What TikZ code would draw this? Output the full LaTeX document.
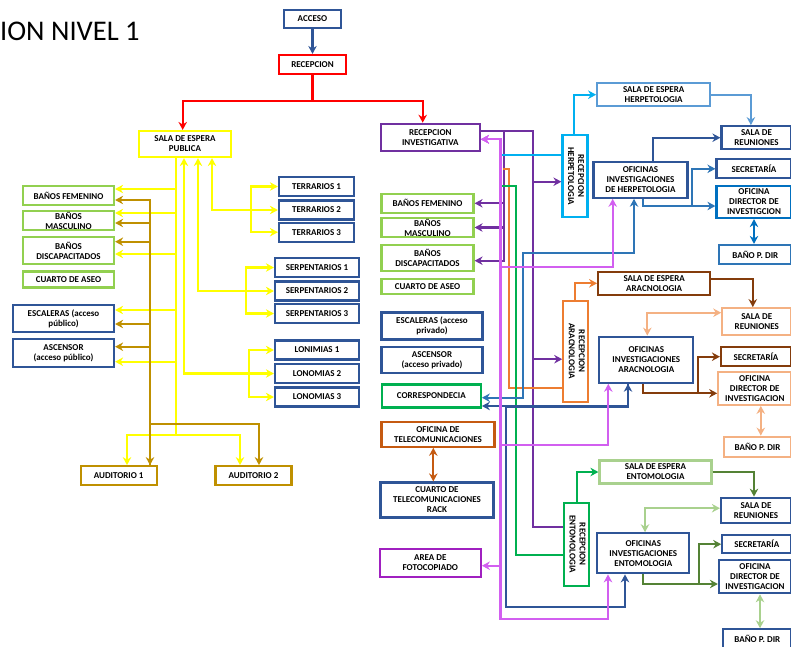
\documentclass[tikz,border=0pt]{standalone}
\usepackage{fontspec}
\setmainfont{Carlito}
\usepackage{graphicx}
\usetikzlibrary{arrows.meta}
\definecolor{cblue}{RGB}{47,85,151}
\definecolor{cyel}{RGB}{255,255,0}
\definecolor{clgreen}{RGB}{146,208,80}
\definecolor{cgold}{RGB}{191,144,0}
\definecolor{cpurple}{RGB}{112,48,160}
\definecolor{cmag}{RGB}{210,95,240}
\definecolor{ccyan}{RGB}{0,176,240}
\definecolor{corange}{RGB}{237,125,49}
\definecolor{cgreen}{RGB}{0,176,80}
\definecolor{cmblue}{RGB}{46,117,182}
\definecolor{clblue}{RGB}{91,155,213}
\definecolor{cdblue}{RGB}{0,112,192}
\definecolor{cbrown}{RGB}{132,60,12}
\definecolor{clorange}{RGB}{244,177,131}
\definecolor{clgreenb}{RGB}{169,209,142}
\definecolor{cdgreen}{RGB}{84,130,53}
\definecolor{cviolet}{RGB}{160,32,192}
\definecolor{cotel}{RGB}{197,90,17}
\newcommand{\vtext}[2]{\rotatebox{-90}{\begin{tabular}{@{}c@{}}#1\\#2\end{tabular}}}

\begin{document}
\begin{tikzpicture}[x=1pt,y=-1pt,>={Stealth[length=8pt,width=8.5pt]},
  bx/.style={draw=#1,line width=2.2pt,fill=white,align=center,inner xsep=2pt,inner ysep=0.5pt,font=\fontsize{9}{10}\selectfont\bfseries},
  sz/.style 2 args={minimum width=#1pt,minimum height=#2pt},
  ln/.style={draw=#1,line width=2.2pt}]
\useasboundingbox (0,0) rectangle (791,646);
\node[font=\fontsize{28.5}{33}\selectfont,anchor=base west,inner sep=0pt] (titulo) at (0,40) {ION NIVEL 1};
\node[bx=cblue,sz={57}{18}] (acceso) at (312.5,19) {ACCESO};
\node[bx=red,sz={67}{19}] (recep) at (312.5,64.5) {RECEPCION};
\node[bx=cyel,sz={92}{26}] (salap) at (185,144) {SALA DE ESPERA\\PUBLICA};
\node[bx=clgreen,sz={91}{19}] (bf1) at (68.5,195.5) {BAÑOS FEMENINO};
\node[bx=clgreen,sz={91}{19}] (bm1) at (68.5,220.5) {BAÑOS\\MASCULINO};
\node[bx=clgreen,sz={91}{27}] (bd1) at (68.5,250.5) {BAÑOS\\DISCAPACITADOS};
\node[bx=clgreen,sz={91}{16}] (ca1) at (68.5,279.5) {CUARTO DE ASEO};
\node[bx=cblue,sz={101}{27}] (es1) at (63.5,318.5) {ESCALERAS (acceso\\público)};
\node[bx=cblue,sz={101}{28}] (as1) at (63.5,353) {ASCENSOR\\(acceso público)};
\node[bx=cblue,sz={75}{19}] (ter1) at (316.5,186.5) {TERRARIOS 1};
\node[bx=cblue,sz={75}{19}] (ter2) at (316.5,210) {TERRARIOS 2};
\node[bx=cblue,sz={75}{19}] (ter3) at (316.5,232.2) {TERRARIOS 3};
\node[bx=cblue,sz={84}{19}] (ser1) at (317,267.5) {SERPENTARIOS 1};
\node[bx=cblue,sz={84}{19}] (ser2) at (317,291) {SERPENTARIOS 2};
\node[bx=cblue,sz={84}{19}] (ser3) at (317,313.5) {SERPENTARIOS 3};
\node[bx=cblue,sz={84}{19}] (lon1) at (317,350) {LONIMIAS 1};
\node[bx=cblue,sz={84}{19}] (lon2) at (317,373.5) {LONOMIAS 2};
\node[bx=cblue,sz={84}{19}] (lon3) at (317,397) {LONOMIAS 3};
\node[bx=cgold,sz={76}{19}] (aud1) at (118.7,475.7) {AUDITORIO 1};
\node[bx=cgold,sz={76}{19}] (aud2) at (253.5,475.7) {AUDITORIO 2};
\node[bx=cpurple,sz={99}{27}] (recinv) at (430.3,137.3) {RECEPCION\\INVESTIGATIVA};
\node[bx=clgreen,sz={92}{19}] (bf2) at (427.5,203.3) {BAÑOS FEMENINO};
\node[bx=clgreen,sz={92}{19}] (bm2) at (427.5,227.5) {BAÑOS\\MASCULINO};
\node[bx=clgreen,sz={92}{26}] (bd2) at (427.5,258) {BAÑOS\\DISCAPACITADOS};
\node[bx=clgreen,sz={92}{15}] (ca2) at (427.5,286.5) {CUARTO DE ASEO};
\node[bx=cblue,sz={101}{27}] (es2) at (432,326) {ESCALERAS (acceso\\privado)};
\node[bx=cblue,sz={101}{26}] (as2) at (432,360.3) {ASCENSOR\\(acceso privado)};
\node[bx=cgreen,sz={99}{23}] (corr) at (431.3,396) {CORRESPONDECIA};
\node[bx=cotel,sz={113}{25}] (otel) at (438,434.2) {OFICINA DE\\TELECOMUNICACIONES};
\node[bx=cblue,sz={113}{35}] (ctel) at (437,500) {CUARTO DE\\TELECOMUNICACIONES\\RACK};
\node[bx=cviolet,sz={101}{28}] (foto) at (430.3,562.8) {AREA DE\\FOTOCOPIADO};
\node[bx=ccyan,sz={25}{82}] (rher) at (575,176) {\vtext{RECEPCION}{HERPETOLOGIA}};
\node[bx=corange,sz={25}{101}] (rara) at (575.8,351.2) {\vtext{RECEPCION}{ARACNOLOGIA}};
\node[bx=cgreen,sz={25}{83}] (rent) at (576.7,544.2) {\vtext{RECEPCION}{ENTOMOLOGIA}};
\node[bx=clblue,sz={113}{23}] (saher) at (653.7,94.7) {SALA DE ESPERA\\HERPETOLOGIA};
\node[bx=cblue,sz={70}{23}] (reuh) at (756.5,137.7) {SALA DE\\REUNIONES};
\node[bx=cblue,sz={94}{36}] (ofher) at (640.5,179.7) {OFICINAS\\INVESTIGACIONES\\DE HERPETOLOGIA};
\node[bx=cblue,sz={75}{19}] (sech) at (754,168.8) {SECRETARÍA};
\node[bx=cdblue,sz={75}{32}] (dirh) at (754,202) {OFICINA\\DIRECTOR DE\\INVESTIGCION};
\node[bx=cmblue,sz={72}{19}] (banh) at (755.3,254.5) {BAÑO P. DIR};
\node[bx=cbrown,sz={112}{23}] (saara) at (654.2,283.3) {SALA DE ESPERA\\ARACNOLOGIA};
\node[bx=clorange,sz={69}{27}] (reua) at (756.8,321.7) {SALA DE\\REUNIONES};
\node[bx=cblue,sz={94}{46}] (ofara) at (646.3,359.7) {OFICINAS\\INVESTIGACIONES\\ARACNOLOGIA};
\node[bx=cbrown,sz={70}{19}] (seca) at (756,356.7) {SECRETARÍA};
\node[bx=clorange,sz={73}{33}] (dira) at (754.8,388.3) {OFICINA\\DIRECTOR DE\\INVESTIGACION};
\node[bx=clorange,sz={67}{20}] (bana) at (757.5,446.7) {BAÑO P. DIR};
\node[bx=clgreenb,sz={112}{23}] (saent) at (655.5,472) {SALA DE ESPERA\\ENTOMOLOGIA};
\node[bx=cblue,sz={70}{25}] (reue) at (756,510.2) {SALA DE\\REUNIONES};
\node[bx=cblue,sz={92}{40}] (ofent) at (643.3,553.3) {OFICINAS\\INVESTIGACIONES\\ENTOMOLOGIA};
\node[bx=cblue,sz={69}{18}] (sece) at (756.8,544.2) {SECRETARÍA};
\node[bx=cblue,sz={72}{33}] (dire) at (755,576.7) {OFICINA\\DIRECTOR DE\\INVESTIGACION};
\node[bx=cblue,sz={68}{20}] (bane) at (757.3,639.3) {BAÑO P. DIR};
\draw[->,ln=cblue] (acceso) -- (recep);
\draw[->,ln=red] (recep.south) -- ++(0,25.5) -| ([xshift=-2.3pt]salap.north);
\draw[->,ln=red] (recep.south) -- ++(0,25.5) -| ([xshift=-7.6pt]recinv.north);
\draw[->,ln=cyel] ([xshift=-9pt]salap.south) |- ([yshift=6.5pt]bf1.east);
\draw[->,ln=cyel] ([xshift=-9pt]salap.south) |- ([yshift=7.5pt]bm1.east);
\draw[->,ln=cyel] ([xshift=-9pt]salap.south) |- ([yshift=-3.5pt]bd1.east);
\draw[->,ln=cyel] ([xshift=-9pt]salap.south) |- ([yshift=8.5pt]es1.east);
\draw[->,ln=cyel] ([xshift=-9pt]salap.south) |- ([yshift=-8.7pt]as1.east);
\draw[->,ln=cyel] ([xshift=-9pt]salap.south) -- ++(0,277) -| ([xshift=8.3pt]aud1.north);
\draw[->,ln=cyel] ([xshift=-9pt]salap.south) -- ++(0,277) -| ([xshift=-13.5pt]aud2.north);
\draw[<->,ln=cyel] ([xshift=27pt]salap.south) |- (ter2.west);
\draw[->,ln=cyel] ([xshift=-27pt]ter2.west) |- (ter1.west);
\draw[->,ln=cyel] ([xshift=-27pt]ter2.west) |- (ter3.west);
\draw[<->,ln=cyel] ([xshift=13pt]salap.south) |- (ser2.west);
\draw[->,ln=cyel] ([xshift=-28pt]ser2.west) |- (ser1.west);
\draw[->,ln=cyel] ([xshift=-28pt]ser2.west) |- (ser3.west);
\draw[<->,ln=cyel] ([xshift=-1pt]salap.south) |- (lon2.west);
\draw[->,ln=cyel] ([xshift=-25pt]lon2.west) |- (lon1.west);
\draw[->,ln=cyel] ([xshift=-25pt]lon2.west) |- (lon3.west);
\draw[<->,ln=cgold] ([xshift=31.3pt]aud1.north) |- ([yshift=-4.5pt]bf1.east);
\draw[->,ln=cgold] ([xshift=31.3pt]aud1.north) |- ([yshift=-2.5pt]bm1.east);
\draw[->,ln=cgold] ([xshift=31.3pt]aud1.north) |- ([yshift=8.8pt]bd1.east);
\draw[->,ln=cgold] ([xshift=31.3pt]aud1.north) |- ([yshift=-5.5pt]es1.east);
\draw[->,ln=cgold] ([xshift=31.3pt]aud1.north) |- ([yshift=6.3pt]as1.east);
\draw[->,ln=cgold] ([xshift=31.3pt]aud1.north) -- ++(0,-41) -| ([xshift=5.5pt]aud2.north);
\draw[->,ln=cpurple] ([yshift=6.6pt]recinv.east) -- ++(22.9,0) |- (bf2.east);
\draw[->,ln=cpurple] ([yshift=6.6pt]recinv.east) -- ++(22.9,0) |- (bm2.east);
\draw[->,ln=cpurple] ([yshift=6.6pt]recinv.east) -- ++(22.9,0) |- ([yshift=-2.7pt]bd2.east);
\draw[->,ln=cpurple] ([yshift=6.6pt]recinv.east) -- ++(51.9,0) |- ([yshift=-5.7pt]rher.west);
\draw[->,ln=cpurple] ([yshift=6.6pt]recinv.east) -- ++(51.9,0) |- ([yshift=-8pt]rara.west);
\draw[ln=cpurple] ([yshift=6.6pt]recinv.east) -- ++(51.9,0) |- ([yshift=17.5pt]rent.west);
\draw[ln=ccyan] ([yshift=21pt]rher.west) -- ++(-60,0);
\draw[->,ln=ccyan] ([xshift=-1pt]rher.north) |- (saher.west);
\draw[ln=corange] ([yshift=-36.5pt]rara.west) -| ++(-53,-218.4) -- ++(-6.7,0);
\draw[->,ln=corange] ([xshift=-0.8pt]rara.north) |- (saara.west);
\draw[ln=cgreen] ([yshift=-10.8pt]rent.west) -| ++(-47,-369) -- ++(-14,0);
\draw[->,ln=cgreen] (rent.north) |- (saent.west);
\draw[<->,ln=cmblue] ([xshift=-6.5pt]ofher.south) |- ++(-111.3,54.3) |- ([yshift=-1.7pt]corr.east);
\draw[<->,ln=cblue] ([xshift=-18.3pt]ofara.south) |- ([yshift=-10pt]corr.east);
\draw[->,ln=cblue] ([xshift=-18.3pt]ofara.south) |- ++(-122.3,23.3) -- ++(0,200) -| ([xshift=-18.3pt]ofent.south);
\draw[<->,ln=cmag] ([yshift=-2pt]recinv.east) -- ++(19.5,0) -- ++(0,127.4) -| ([xshift=-27.8pt]ofher.south);
\draw[<->,ln=cmag] ([yshift=-2pt]recinv.east) -- ++(19.5,0) -- ++(0,305.7) -| ([xshift=-38pt]ofara.south);
\draw[<->,ln=cmag] ([yshift=-2pt]recinv.east) -- ++(19.5,0) -- ++(0,479.7) -| ([xshift=-35.3pt]ofent.south);
\draw[<->,ln=cmag] ([yshift=-2pt]recinv.east) -- ++(19.5,0) |- ([yshift=-2.9pt]foto.east);
\draw[<->,ln=cotel] ([xshift=-4.7pt]otel.south) -- ([xshift=-4.7pt]otel.south |- ctel.north);
\draw[->,ln=clblue] (saher.east) -| ([xshift=-5.6pt]reuh.north);
\draw[->,ln=cblue] ([xshift=12.2pt]ofher.north) |- (reuh.west);
\draw[->,ln=cmblue] ([xshift=2.2pt]ofher.south) |- ([yshift=-4pt]dirh.west);
\draw[->,ln=cmblue] ([xshift=-23.4pt,yshift=-4pt]dirh.west) |- (sech.west);
\draw[<->,ln=cdblue] (dirh.south) -- (dirh.south |- banh.north);
\draw[->,ln=cbrown] ([yshift=4.3pt]saara.east) -| ([xshift=-4pt]reua.north);
\draw[<->,ln=clorange] ([xshift=1pt]ofara.north) |- ([yshift=9pt]reua.west);
\draw[->,ln=cbrown] ([xshift=-3.6pt]ofara.south) |- ([yshift=-5pt]dira.west);
\draw[->,ln=cbrown] ([xshift=-19pt,yshift=-5pt]dira.west) |- (seca.west);
\draw[<->,ln=clorange] ([xshift=6pt]dira.south) -- ([xshift=6pt]dira.south |- bana.north);
\draw[->,ln=cdgreen] (saent.east) -| ([xshift=-2pt]reue.north);
\draw[<->,ln=clgreenb] ([xshift=1.7pt]ofent.north) |- ([yshift=2pt]reue.west);
\draw[->,ln=cdgreen] (ofent.south) |- ([yshift=-7.3pt]dire.west);
\draw[->,ln=cdgreen] ([xshift=-19pt,yshift=-7.3pt]dire.west) |- (sece.west);
\draw[<->,ln=clgreenb] ([xshift=5pt]dire.south) -- ([xshift=5pt]dire.south |- bane.north);
\end{tikzpicture}
\end{document}
